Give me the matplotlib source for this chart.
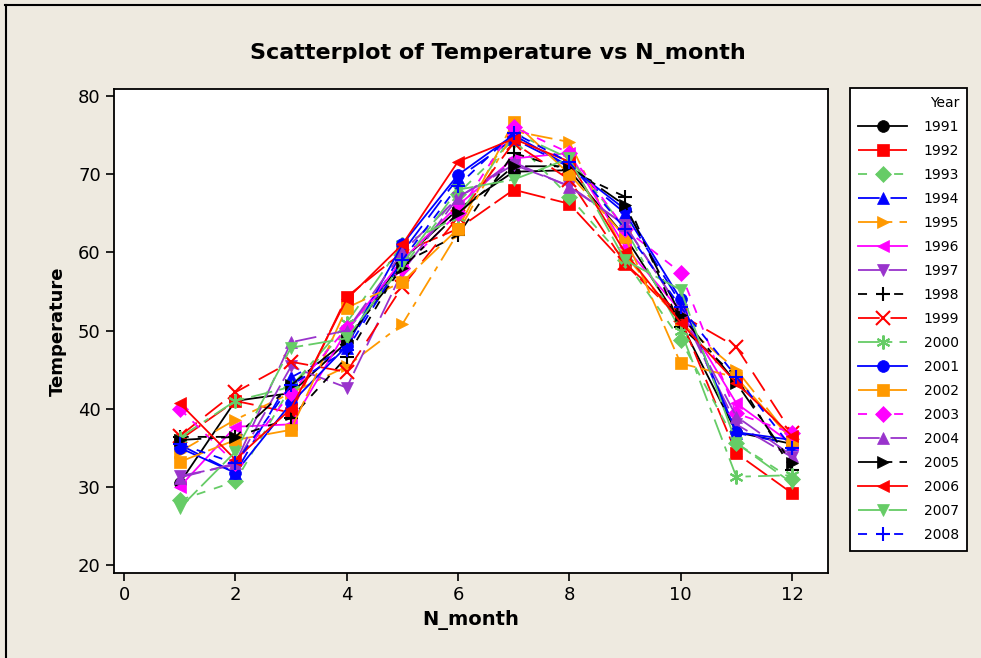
import numpy as np
import matplotlib
matplotlib.use("Agg")
import matplotlib.pyplot as plt
from matplotlib.lines import Line2D

# data
months = list(range(1, 13))
years = ["1991", "1992", "1993", "1994", "1995", "1996", "1997", "1998", "1999",
         "2000", "2001", "2002", "2003", "2004", "2005", "2006", "2007", "2008"]

t1991 = [30.5, 41.0, 42.0, 48.5, 59.0, 65.5, 70.3, 70.5, 62.0, 51.0, 37.0, 35.5]
t1992 = [36.0, 41.0, 39.5, 54.3, 60.0, 63.0, 68.0, 66.2, 58.5, 51.5, 34.3, 29.2]
t1993 = [28.3, 30.7, 42.8, 50.0, 58.0, 67.5, 74.4, 67.1, 59.0, 48.8, 35.6, 31.0]
t1994 = [35.4, 31.8, 44.0, 47.8, 60.0, 69.5, 74.5, 70.9, 65.0, 53.5, 36.9, 35.5]
t1995 = [34.5, 38.6, 42.0, 45.4, 50.8, 62.5, 75.5, 74.1, 59.7, 51.0, 45.0, 36.0]
t1996 = [30.0, 37.7, 38.0, 50.0, 59.0, 66.0, 72.0, 72.7, 60.7, 52.5, 40.7, 35.5]
t1997 = [31.4, 32.8, 45.4, 42.7, 57.5, 67.0, 71.2, 68.5, 63.5, 52.6, 38.0, 33.8]
t1998 = [36.4, 36.4, 38.8, 46.6, 58.6, 62.2, 72.7, 70.5, 67.1, 50.5, 44.1, 32.2]
t1999 = [36.5, 42.1, 46.0, 44.7, 55.6, 64.5, 74.0, 69.3, 58.6, 52.0, 47.9, 36.9]
t2000 = [36.3, 41.0, 42.8, 51.0, 61.0, 64.5, 75.3, 72.0, 63.1, 50.0, 31.3, 31.5]
t2001 = [35.0, 31.8, 40.7, 48.0, 61.0, 69.9, 75.0, 71.0, 65.5, 54.0, 37.0, 36.0]
t2002 = [33.2, 36.0, 37.3, 52.9, 56.2, 63.0, 76.7, 70.0, 62.0, 45.8, 44.0, 36.0]
t2003 = [40.0, 33.0, 42.0, 50.3, 58.0, 65.0, 76.0, 72.7, 63.0, 57.4, 39.4, 36.9]
t2004 = [31.2, 33.0, 48.5, 50.0, 60.0, 67.0, 71.5, 68.4, 63.5, 52.6, 39.0, 34.0]
t2005 = [36.0, 36.4, 43.0, 48.8, 58.0, 65.0, 71.0, 71.0, 66.0, 52.0, 43.3, 33.0]
t2006 = [40.7, 33.5, 40.0, 54.0, 61.0, 71.6, 74.5, 71.6, 60.0, 51.0, 43.3, 36.5]
t2007 = [27.3, 34.5, 47.8, 49.0, 58.5, 68.0, 69.3, 72.0, 59.0, 55.2, 35.6, 30.5]
t2008 = [35.5, 33.0, 43.0, 47.5, 59.0, 68.5, 75.3, 71.5, 63.0, 53.0, 44.1, 35.0]

temps = [t1991, t1992, t1993, t1994, t1995, t1996, t1997, t1998, t1999,
         t2000, t2001, t2002, t2003, t2004, t2005, t2006, t2007, t2008]

# minitab style cycles
colors = ["black", "#ff0000", "#66cc66", "#0000ff", "#ff9900", "#ff00ff", "#9933cc"]
markers = ["o", "s", "D", "^", ">", "<", "v", "+", "x", (6, 2, 0)]
styles = ["-", (0, (14, 3)), (0, (5, 5)), (0, (12, 6)), (0, (12, 4, 3, 4))]

bg = "#eeeae0"
fig = plt.figure(figsize=(9.81, 6.58), dpi=100, facecolor=bg)
ax = fig.add_axes([0.1162, 0.129, 0.728, 0.736])

for i, (yr, t) in enumerate(zip(years, temps)):
    mk = markers[i % 10]
    thin = mk in ("+", "x") or isinstance(mk, tuple)
    ax.plot(months, t, color=colors[i % 7], marker=mk, markersize=10 if thin else 8.5,
            markeredgewidth=1.5 if thin else 0.5,
            linestyle=styles[i % 5], linewidth=1.3, label=yr)

ax.set_xlim(-0.18, 12.65)
ax.set_ylim(18.98, 80.9)
ax.set_xticks([0, 2, 4, 6, 8, 10, 12])
ax.set_yticks([20, 30, 40, 50, 60, 70, 80])
ax.tick_params(direction="out", length=6, width=1.2, labelsize=13, colors="black")
for s in ax.spines.values():
    s.set_linewidth(1.3)

ax.set_xlabel("N_month", fontsize=14, fontweight="bold", labelpad=4)
ax.set_ylabel("Temperature", fontsize=13, fontweight="bold", labelpad=8)
fig.text(0.508, 0.918, "Scatterplot of Temperature vs N_month", ha="center", va="center",
         fontsize=16, fontweight="bold")

leg = ax.legend(loc="upper left", bbox_to_anchor=(850 / 981, 1 - 88 / 658), bbox_transform=fig.transFigure,
                title="Year", fontsize=10, title_fontsize=10, frameon=True, fancybox=False,
                edgecolor="black", facecolor="white", framealpha=1, handlelength=3.5,
                labelspacing=0.72, borderpad=0.6, borderaxespad=0, handletextpad=1.2,
                alignment="right")
leg.get_frame().set_linewidth(1.3)

# outer frame lines
fig.add_artist(Line2D([5 / 981, 1], [1 - 5 / 658, 1 - 5 / 658], color="black", lw=1.5,
                      transform=fig.transFigure))
fig.add_artist(Line2D([6 / 981, 6 / 981], [0, 1 - 5 / 658], color="black", lw=1.5,
                      transform=fig.transFigure))

plt.savefig("out.png", dpi=100, facecolor=bg)
